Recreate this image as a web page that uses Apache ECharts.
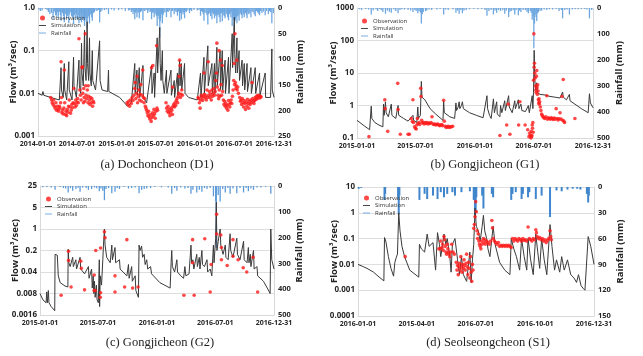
<!DOCTYPE html>
<html><head><meta charset="utf-8">
<script src="https://cdn.jsdelivr.net/npm/echarts@6/dist/echarts.min.js"></script>
<style>html,body{margin:0;padding:0;background:#fff}#c{width:643px;height:356px}</style>
</head><body><div id="c"></div>
<script>
// ---------- Panel (a) Dochoncheon (D1) ----------
const a_xticks=['2014-01-01','2014-07-01','2015-01-01','2015-07-01','2016-01-01','2016-07-01','2016-12-31'];
const a_yticks=['0.001','0.01','0.1','1.0'];
const a_rainTicks=[0,50,100,150,200,250];
const a_rain=[['2014-01-05',3],['2014-01-12',6],['2014-01-20',5],['2014-02-05',2],['2014-02-12',4],['2014-02-18',8],['2014-02-25',12],['2014-03-05',10],['2014-03-12',22],['2014-03-16',9],['2014-03-20',6],['2014-03-24',14],['2014-03-28',15],['2014-04-01',8],['2014-04-05',20],['2014-04-08',6],['2014-04-12',8],['2014-04-15',14],['2014-04-18',25],['2014-04-22',7],['2014-04-25',10],['2014-04-29',16],['2014-05-03',28],['2014-05-06',9],['2014-05-10',12],['2014-05-14',20],['2014-05-18',15],['2014-05-21',8],['2014-05-24',30],['2014-05-28',12],['2014-06-02',8],['2014-06-06',16],['2014-06-10',18],['2014-06-13',9],['2014-06-15',32],['2014-06-19',14],['2014-06-22',10],['2014-06-26',20],['2014-06-29',12],['2014-07-02',22],['2014-07-06',14],['2014-07-10',30],['2014-07-13',18],['2014-07-15',12],['2014-07-19',24],['2014-07-22',28],['2014-07-25',10],['2014-07-28',18],['2014-07-31',22],['2014-08-02',25],['2014-08-05',35],['2014-08-08',20],['2014-08-10',15],['2014-08-13',26],['2014-08-17',39],['2014-08-20',20],['2014-08-24',16],['2014-08-28',30],['2014-08-31',12],['2014-09-03',12],['2014-09-07',18],['2014-09-10',25],['2014-09-15',10],['2014-09-20',8],['2014-09-27',5],['2014-10-02',6],['2014-10-08',4],['2014-10-14',28],['2014-10-19',8],['2014-10-25',5],['2014-11-05',4],['2014-11-14',3],['2014-11-24',12],['2014-12-08',3],['2014-12-20',5],
['2015-01-10',4],['2015-01-25',3],['2015-02-10',6],['2015-02-25',5],['2015-03-03',4],['2015-03-10',8],['2015-03-14',5],['2015-03-18',12],['2015-03-22',7],['2015-03-26',22],['2015-03-30',9],['2015-04-02',6],['2015-04-05',18],['2015-04-10',10],['2015-04-13',7],['2015-04-16',20],['2015-04-19',5],['2015-04-22',8],['2015-04-27',6],['2015-05-03',24],['2015-05-08',5],['2015-05-12',6],['2015-05-18',4],['2015-05-25',10],['2015-05-30',5],['2015-06-05',8],['2015-06-09',6],['2015-06-12',22],['2015-06-15',8],['2015-06-18',10],['2015-06-21',7],['2015-06-24',18],['2015-06-28',9],['2015-07-02',12],['2015-07-05',16],['2015-07-08',35],['2015-07-11',14],['2015-07-14',15],['2015-07-17',22],['2015-07-20',58],['2015-07-22',26],['2015-07-24',20],['2015-07-28',12],['2015-08-01',30],['2015-08-04',14],['2015-08-08',10],['2015-08-13',8],['2015-08-20',18],['2015-08-24',7],['2015-08-28',8],['2015-09-03',5],['2015-09-10',18],['2015-09-14',6],['2015-09-18',6],['2015-09-25',12],['2015-09-30',5],['2015-10-04',8],['2015-10-10',15],['2015-10-15',7],['2015-10-20',25],['2015-10-24',10],['2015-10-28',22],['2015-11-01',8],['2015-11-05',12],['2015-11-08',7],['2015-11-12',20],['2015-11-16',6],['2015-11-20',8],['2015-11-27',5],['2015-12-05',10],['2015-12-10',4],['2015-12-15',6],['2015-12-26',4],
['2016-01-10',5],['2016-01-18',4],['2016-01-25',15],['2016-01-29',6],['2016-02-03',8],['2016-02-07',12],['2016-02-10',25],['2016-02-14',9],['2016-02-20',10],['2016-02-24',14],['2016-02-28',32],['2016-03-03',12],['2016-03-08',10],['2016-03-12',16],['2016-03-15',8],['2016-03-18',22],['2016-03-22',9],['2016-03-25',12],['2016-03-30',20],['2016-04-02',10],['2016-04-05',15],['2016-04-08',12],['2016-04-10',30],['2016-04-14',14],['2016-04-18',12],['2016-04-21',18],['2016-04-25',28],['2016-04-28',10],['2016-05-01',10],['2016-05-05',26],['2016-05-09',14],['2016-05-12',8],['2016-05-15',16],['2016-05-18',20],['2016-05-22',9],['2016-05-26',12],['2016-05-30',18],['2016-06-03',24],['2016-06-07',12],['2016-06-10',10],['2016-06-14',18],['2016-06-17',8],['2016-06-20',35],['2016-06-23',20],['2016-06-25',15],['2016-06-28',24],['2016-06-30',42],['2016-07-03',26],['2016-07-05',22],['2016-07-09',18],['2016-07-12',30],['2016-07-15',16],['2016-07-18',14],['2016-07-22',25],['2016-07-26',12],['2016-07-30',10],['2016-08-02',14],['2016-08-05',20],['2016-08-10',8],['2016-08-12',12],['2016-08-15',18],['2016-08-19',9],['2016-08-22',10],['2016-08-25',14],['2016-08-28',20],['2016-09-01',8],['2016-09-05',12],['2016-09-10',10],['2016-09-15',18],['2016-09-20',7],['2016-09-25',8],['2016-09-30',12],['2016-10-05',16],['2016-10-10',6],['2016-10-15',8],['2016-10-20',11],['2016-10-25',14],['2016-10-30',6],['2016-11-05',10],['2016-11-12',7],['2016-11-20',14],['2016-11-27',6],['2016-12-05',12],['2016-12-10',6],['2016-12-15',8],['2016-12-21',30],['2016-12-28',10]];
const a_sim=[['2014-01-01',0.010],['2014-01-20',0.009],['2014-01-24',0.011],['2014-01-28',0.009],['2014-03-01',0.008],['2014-04-10',0.007],['2014-04-18',0.04],['2014-04-20',0.012],['2014-04-28',0.008],['2014-05-03',0.05],['2014-05-05',0.012],['2014-05-14',0.007],['2014-05-24',0.055],['2014-05-26',0.012],['2014-06-08',0.007],['2014-06-15',0.07],['2014-06-17',0.015],['2014-06-28',0.008],['2014-07-10',0.06],['2014-07-12',0.015],['2014-07-18',0.01],['2014-07-22',0.15],['2014-07-24',0.03],['2014-07-30',0.015],['2014-08-05',0.3],['2014-08-07',0.04],['2014-08-12',0.02],['2014-08-17',0.48],['2014-08-19',0.05],['2014-08-24',0.02],['2014-08-28',0.2],['2014-08-30',0.03],['2014-09-05',0.015],['2014-09-10',0.1],['2014-09-12',0.02],['2014-09-25',0.012],['2014-10-14',0.17],['2014-10-16',0.02],['2014-10-25',0.012],['2014-11-20',0.011],['2014-11-24',0.035],['2014-11-26',0.011],['2015-01-15',0.008],['2015-02-20',0.005],['2015-03-10',0.006],['2015-03-26',0.05],['2015-03-28',0.01],['2015-04-05',0.035],['2015-04-07',0.009],['2015-04-16',0.04],['2015-04-18',0.008],['2015-05-03',0.045],['2015-05-05',0.008],['2015-05-20',0.006],['2015-06-12',0.045],['2015-06-14',0.01],['2015-06-24',0.03],['2015-06-26',0.008],['2015-07-08',0.2],['2015-07-10',0.03],['2015-07-20',0.35],['2015-07-22',0.05],['2015-07-26',0.02],['2015-08-01',0.1],['2015-08-03',0.02],['2015-08-10',0.01],['2015-08-20',0.035],['2015-08-22',0.01],['2015-09-10',0.035],['2015-09-12',0.009],['2015-09-25',0.02],['2015-09-27',0.008],['2015-10-10',0.03],['2015-10-12',0.009],['2015-10-20',0.06],['2015-10-22',0.015],['2015-10-28',0.05],['2015-10-30',0.012],['2015-11-12',0.05],['2015-11-14',0.01],['2015-12-01',0.008],['2016-01-10',0.007],['2016-01-25',0.03],['2016-01-27',0.008],['2016-02-10',0.07],['2016-02-12',0.01],['2016-02-28',0.13],['2016-03-01',0.015],['2016-03-18',0.05],['2016-03-20',0.01],['2016-03-30',0.05],['2016-04-01',0.01],['2016-04-10',0.12],['2016-04-12',0.015],['2016-04-25',0.1],['2016-04-27',0.012],['2016-05-05',0.1],['2016-05-07',0.012],['2016-05-18',0.06],['2016-05-20',0.01],['2016-06-03',0.07],['2016-06-05',0.01],['2016-06-20',0.25],['2016-06-22',0.04],['2016-06-30',0.6],['2016-07-02',0.08],['2016-07-06',0.03],['2016-07-12',0.2],['2016-07-14',0.03],['2016-07-22',0.1],['2016-07-24',0.02],['2016-08-05',0.06],['2016-08-07',0.015],['2016-08-15',0.05],['2016-08-17',0.012],['2016-08-28',0.05],['2016-08-30',0.011],['2016-09-15',0.04],['2016-09-17',0.01],['2016-10-05',0.04],['2016-10-07',0.01],['2016-10-25',0.03],['2016-10-27',0.009],['2016-11-20',0.03],['2016-11-22',0.008],['2016-12-15',0.008],['2016-12-21',0.11],['2016-12-23',0.012],['2016-12-31',0.008]];
const a_obs=[['2014-03-01',0.008],['2014-03-05',0.007],['2014-03-08',0.006],['2014-03-12',0.0055],['2014-03-15',0.007],['2014-03-18',0.005],['2014-03-22',0.0045],['2014-03-25',0.006],['2014-03-28',0.004],['2014-04-01',0.005],['2014-04-04',0.0042],['2014-04-07',0.0038],['2014-04-10',0.005],['2014-04-13',0.0045],['2014-04-16',0.006],['2014-04-18',0.055],['2014-04-20',0.008],['2014-04-22',0.0035],['2014-04-25',0.004],['2014-04-28',0.0033],['2014-05-01',0.0045],['2014-05-03',0.035],['2014-05-05',0.006],['2014-05-08',0.0032],['2014-05-11',0.0038],['2014-05-14',0.003],['2014-05-17',0.0042],['2014-05-20',0.0036],['2014-05-23',0.005],['2014-05-26',0.007],['2014-05-29',0.0048],['2014-06-01',0.0034],['2014-06-04',0.004],['2014-06-07',0.0055],['2014-06-10',0.0046],['2014-06-13',0.006],['2014-06-16',0.013],['2014-06-19',0.0058],['2014-06-22',0.0048],['2014-06-25',0.007],['2014-06-28',0.0052],['2014-07-01',0.0062],['2014-07-04',0.0075],['2014-07-07',0.006],['2014-07-10',0.19],
['2014-07-14',0.012],['2014-07-17',0.009],['2014-07-20',0.007],['2014-07-24',0.04],['2014-07-26',0.042],['2014-07-28',0.01],['2014-07-31',0.006],['2014-08-01',0.013],['2014-08-03',0.008],['2014-08-06',0.0065],['2014-08-08',0.25],['2014-08-10',0.015],['2014-08-12',0.009],['2014-08-15',0.0075],['2014-08-18',0.012],['2014-08-21',0.006],['2014-08-22',0.015],['2014-08-24',0.0085],['2014-08-27',0.007],['2014-08-30',0.0055],['2014-09-02',0.008],['2014-09-05',0.006],['2014-09-08',0.0075],['2014-09-11',0.005],['2014-09-14',0.0065],['2014-09-17',0.006],
['2015-02-18',0.006],['2015-02-22',0.0055],['2015-02-26',0.0065],['2015-03-02',0.005],['2015-03-06',0.007],['2015-03-10',0.0058],['2015-03-14',0.008],['2015-03-18',0.0068],['2015-03-22',0.009],['2015-03-26',0.013],['2015-03-28',0.018],['2015-03-31',0.0075],['2015-04-03',0.01],['2015-04-06',0.025],['2015-04-08',0.006],['2015-04-11',0.0085],['2015-04-14',0.012],['2015-04-17',0.007],['2015-04-20',0.0095],['2015-04-23',0.016],['2015-04-26',0.0065],['2015-04-29',0.009],['2015-05-02',0.035],['2015-05-05',0.008],['2015-05-08',0.006],['2015-05-11',0.0075],['2015-05-14',0.005],['2015-05-17',0.0045],
['2015-05-20',0.004],['2015-05-23',0.0035],['2015-05-26',0.003],['2015-05-29',0.0038],['2015-06-01',0.0028],['2015-06-04',0.0025],['2015-06-07',0.0032],['2015-06-10',0.0022],['2015-06-12',0.04],['2015-06-14',0.0027],['2015-06-17',0.0035],['2015-06-18',0.045],['2015-06-20',0.003],['2015-06-23',0.0042],['2015-06-26',0.0033],['2015-06-29',0.0026],['2015-07-02',0.0038],['2015-07-05',0.13],['2015-07-07',0.0045],['2015-07-10',0.004],
['2015-08-18',0.006],['2015-08-21',0.0045],['2015-08-24',0.0038],['2015-08-27',0.005],['2015-08-30',0.0035],['2015-09-02',0.0042],['2015-09-05',0.003],['2015-09-08',0.0036],['2015-09-11',0.0045],['2015-09-14',0.004],['2015-09-17',0.0032],['2015-09-18',0.014],['2015-09-20',0.005],['2015-09-23',0.0055],['2015-09-26',0.0048],['2015-09-29',0.006],['2015-10-02',0.0052],['2015-10-05',0.0068],['2015-10-08',0.0075],['2015-10-11',0.006],['2015-10-14',0.0085],['2015-10-17',0.01],['2015-10-18',0.025],['2015-10-20',0.06],['2015-10-22',0.045],['2015-10-24',0.008],['2015-10-27',0.0095],['2015-10-30',0.012],['2015-11-02',0.009],
['2016-01-14',0.008],['2016-01-17',0.0075],['2016-01-20',0.006],['2016-01-23',0.0045],['2016-01-26',0.007],['2016-01-29',0.009],['2016-02-01',0.008],['2016-02-04',0.0068],['2016-02-07',0.0085],['2016-02-10',0.03],['2016-02-12',0.0095],['2016-02-15',0.0078],['2016-02-18',0.0088],['2016-02-21',0.007],['2016-02-24',0.012],['2016-02-27',0.008],['2016-03-01',0.055],['2016-03-03',0.009],['2016-03-06',0.011],['2016-03-09',0.008],['2016-03-12',0.0095],['2016-03-15',0.007],['2016-03-18',0.012],['2016-03-21',0.0085],
['2016-03-24',0.01],['2016-03-27',0.013],['2016-03-30',0.009],['2016-04-02',0.011],['2016-04-05',0.02],['2016-04-08',0.03],['2016-04-10',0.15],['2016-04-12',0.014],['2016-04-15',0.009],['2016-04-18',0.0075],['2016-04-20',0.1],['2016-04-21',0.012],['2016-04-24',0.0085],['2016-04-27',0.06],['2016-04-29',0.016],['2016-05-02',0.009],['2016-05-05',0.045],['2016-05-07',0.011],['2016-05-10',0.007],['2016-05-13',0.0055],['2016-05-16',0.0065],['2016-05-19',0.005],['2016-05-22',0.0058],['2016-05-25',0.0045],['2016-05-28',0.0052],['2016-05-31',0.004],['2016-06-03',0.0068],['2016-06-06',0.0055],['2016-06-09',0.0048],['2016-06-12',0.006],['2016-06-15',0.007],['2016-06-18',0.0058],['2016-06-21',0.0085],
['2016-06-24',0.012],['2016-06-27',0.02],['2016-06-29',0.05],['2016-07-01',0.016],['2016-07-03',0.25],['2016-07-05',0.018],['2016-07-07',0.013],['2016-07-09',0.015],['2016-07-11',0.06],['2016-07-13',0.012],['2016-07-16',0.014],['2016-07-19',0.01],
['2016-07-25',0.008],['2016-07-28',0.0065],['2016-07-31',0.007],['2016-08-03',0.0055],['2016-08-06',0.0075],['2016-08-09',0.006],['2016-08-12',0.0048],['2016-08-15',0.0068],['2016-08-18',0.0058],['2016-08-21',0.0042],['2016-08-24',0.0062],['2016-08-27',0.005],['2016-08-30',0.0072],['2016-09-02',0.0058],['2016-09-05',0.0045],['2016-09-08',0.0065],['2016-09-11',0.0055],['2016-09-14',0.007],['2016-09-17',0.006],['2016-09-20',0.018],['2016-09-23',0.0075],['2016-09-26',0.0065],['2016-09-29',0.0058],['2016-10-02',0.0068],['2016-10-05',0.008],['2016-10-08',0.0072],['2016-10-11',0.0085],['2016-10-14',0.0075],['2016-10-17',0.009],['2016-10-20',0.008],['2016-10-23',0.0088],['2016-10-26',0.0078],['2016-10-29',0.0085],['2016-11-01',0.0082]];

// ---------- Panel (b) Gongjicheon (G1) ----------
const b_xticks=['2015-01-01','2015-07-01','2016-01-01','2016-07-01','2016-12-31'];
const b_yticks=['0.1','1','10','100','1000'];
const b_rainTicks=[0,100,200,300,400,500];
const b_rain=[['2015-01-08',5],['2015-01-15',8],['2015-01-28',4],['2015-02-06',6],['2015-02-14',25],['2015-02-20',10],['2015-03-01',6],['2015-03-06',12],['2015-03-12',4],['2015-03-17',9],['2015-03-22',15],['2015-03-30',22],['2015-04-05',10],['2015-04-11',14],['2015-04-17',18],['2015-04-25',6],['2015-05-01',12],['2015-05-08',20],['2015-05-14',8],['2015-05-20',5],['2015-05-28',6],['2015-06-08',8],['2015-06-16',10],['2015-06-23',15],['2015-06-29',8],['2015-07-03',12],['2015-07-08',20],['2015-07-12',12],['2015-07-16',18],['2015-07-19',60],['2015-07-22',24],['2015-07-25',15],['2015-08-01',12],['2015-08-05',10],['2015-08-12',6],['2015-08-20',8],['2015-09-05',6],['2015-09-15',4],['2015-09-26',25],['2015-10-02',6],['2015-10-10',8],['2015-10-25',6],['2015-11-03',18],['2015-11-08',10],['2015-11-13',22],['2015-11-18',8],['2015-11-23',20],['2015-11-28',10],['2015-12-05',8],['2015-12-15',5],['2015-12-28',4],
['2016-01-10',5],['2016-01-22',4],['2016-02-01',8],['2016-02-07',30],['2016-02-13',12],['2016-02-20',8],['2016-02-27',25],['2016-03-03',10],['2016-03-08',18],['2016-03-14',8],['2016-03-20',12],['2016-03-27',9],['2016-04-02',22],['2016-04-07',10],['2016-04-14',35],['2016-04-18',14],['2016-04-22',12],['2016-04-28',9],['2016-05-03',25],['2016-05-07',8],['2016-05-14',28],['2016-05-18',10],['2016-05-22',15],['2016-05-29',8],['2016-06-05',8],['2016-06-10',14],['2016-06-14',20],['2016-06-20',12],['2016-06-23',18],['2016-06-26',45],['2016-06-29',30],['2016-07-01',155],['2016-07-03',60],['2016-07-05',25],['2016-07-08',35],['2016-07-10',50],['2016-07-13',20],['2016-07-15',15],['2016-07-20',12],['2016-07-25',10],['2016-08-02',6],['2016-08-10',8],['2016-08-18',5],['2016-08-28',6],['2016-09-08',4],['2016-09-17',12],['2016-09-24',8],['2016-09-28',40],['2016-10-05',8],['2016-10-12',6],['2016-10-19',25],['2016-10-28',6],['2016-11-06',5],['2016-11-15',5],['2016-11-25',4],['2016-12-05',4],['2016-12-12',6],['2016-12-20',40],['2016-12-27',8]];
const b_sim=[['2015-01-01',0.35],['2015-01-20',0.25],['2015-02-09',0.18],['2015-02-14',0.95],['2015-02-16',0.4],['2015-02-25',0.3],['2015-03-10',0.25],['2015-03-22',0.22],['2015-03-24',1.1],['2015-03-26',0.5],['2015-03-30',1.3],['2015-04-01',0.6],['2015-04-08',0.45],['2015-04-17',1.1],['2015-04-19',0.5],['2015-05-01',0.4],['2015-05-08',1.0],['2015-05-10',0.5],['2015-05-25',0.4],['2015-06-08',0.33],['2015-06-23',0.5],['2015-06-25',0.35],['2015-07-05',0.3],['2015-07-08',0.9],['2015-07-10',0.4],['2015-07-16',0.5],['2015-07-19',5.5],['2015-07-21',1.8],['2015-07-26',1.7],['2015-07-30',1.5],['2015-08-15',0.8],['2015-09-01',0.55],['2015-09-24',0.35],['2015-09-26',1.4],['2015-09-28',0.6],['2015-10-15',0.45],['2015-10-30',0.4],['2015-11-03',1.2],['2015-11-05',0.7],['2015-11-10',0.9],['2015-11-13',1.3],['2015-11-15',0.8],['2015-11-20',1.0],['2015-11-23',1.3],['2015-11-26',0.8],['2015-12-15',0.6],['2016-01-05',0.5],['2016-01-26',0.42],['2016-02-07',2.0],['2016-02-09',0.8],['2016-02-15',0.5],['2016-02-20',0.4],['2016-02-27',1.6],['2016-03-01',0.6],['2016-03-08',1.3],['2016-03-10',0.55],['2016-03-18',0.45],['2016-03-20',1.0],['2016-03-24',0.6],['2016-04-02',1.4],['2016-04-04',0.7],['2016-04-14',2.0],['2016-04-16',0.9],['2016-04-22',0.9],['2016-04-25',0.6],['2016-05-03',1.4],['2016-05-05',0.8],['2016-05-14',1.5],['2016-05-16',0.8],['2016-05-22',1.1],['2016-05-25',0.7],['2016-06-05',0.65],['2016-06-14',1.0],['2016-06-17',0.6],['2016-06-23',0.55],['2016-06-26',2.0],['2016-06-28',0.8],['2016-06-30',2.5],['2016-07-02',50],['2016-07-04',6],['2016-07-07',3.0],['2016-07-10',5.0],['2016-07-12',2.5],['2016-07-20',2.2],['2016-08-05',2.1],['2016-08-20',1.9],['2016-09-05',1.8],['2016-09-20',1.7],['2016-09-28',2.6],['2016-09-30',1.8],['2016-10-10',1.5],['2016-10-19',2.2],['2016-10-21',1.4],['2016-11-05',1.1],['2016-11-25',0.8],['2016-12-16',0.6],['2016-12-20',2.3],['2016-12-23',1.2],['2016-12-31',0.85]];
const b_obs=[['2015-02-07',0.11],['2015-03-28',1.5],['2015-03-29',0.8],['2015-04-06',0.16],['2015-05-07',4.8],['2015-05-08',0.75],['2015-05-15',0.13],['2015-06-08',0.13],['2015-06-12',0.13],['2015-06-18',0.4],['2015-06-21',0.32],['2015-06-23',1.5],['2015-06-25',0.3],['2015-06-28',0.22],['2015-07-01',0.2],['2015-07-03',0.19],['2015-07-05',0.25],['2015-07-07',0.4],['2015-07-09',0.28],['2015-07-12',0.3],['2015-07-14',0.26],['2015-07-17',3.4],['2015-07-18',1.9],['2015-07-20',0.35],['2015-07-22',0.29],['2015-07-25',0.3],['2015-07-28',0.27],['2015-07-31',0.3],['2015-08-03',0.28],['2015-08-06',0.3],['2015-08-09',0.27],['2015-08-12',0.29],['2015-08-15',0.28],['2015-08-18',0.3],['2015-08-21',0.45],['2015-08-24',0.27],['2015-08-27',0.26],['2015-08-30',0.27],['2015-09-02',0.25],['2015-09-05',0.26],['2015-09-08',0.27],['2015-09-11',0.25],['2015-09-14',0.24],['2015-09-17',0.25],['2015-09-20',0.26],['2015-09-23',0.24],['2015-09-26',1.45],['2015-09-28',0.33],['2015-10-01',0.23],['2015-10-04',0.21],['2015-10-07',0.22],['2015-10-10',0.23],['2015-10-13',0.21],['2015-10-16',0.22],['2015-10-20',0.22],['2015-10-24',0.23],
['2016-03-18',0.12],['2016-04-08',0.25],['2016-04-13',1.1],['2016-04-18',0.13],['2016-05-15',0.25],['2016-05-19',1.3],['2016-06-04',0.25],['2016-06-12',0.18],['2016-06-16',0.11],['2016-06-18',0.14],['2016-06-20',0.12],['2016-06-22',0.1],['2016-06-23',0.16],['2016-06-24',0.11],['2016-06-25',0.12],['2016-06-26',0.25],['2016-06-27',0.2],['2016-06-28',0.3],['2016-06-29',0.15],
['2016-06-30',6],['2016-07-01',160],['2016-07-02',15],['2016-07-03',20],['2016-07-04',10],['2016-07-05',7],['2016-07-06',4],['2016-07-07',3],['2016-07-08',2.5],['2016-07-09',8],['2016-07-10',12],['2016-07-11',3.5],['2016-07-12',2.2],['2016-07-13',4.3],['2016-07-14',2.8],['2016-07-15',1.5],['2016-07-16',1.2],['2016-07-17',1.6],['2016-07-18',1.1],['2016-07-19',1.3],['2016-07-21',0.9],['2016-07-23',0.7],['2016-07-25',0.55],['2016-07-27',0.5],['2016-07-29',0.45],['2016-08-01',0.42],['2016-08-04',0.4],['2016-08-07',0.45],['2016-08-10',2.0],['2016-08-12',0.38],['2016-08-15',0.42],['2016-08-18',0.4],['2016-08-21',0.38],['2016-08-24',0.42],['2016-08-27',0.4],['2016-08-30',0.37],['2016-09-02',0.41],['2016-09-05',0.38],['2016-09-08',0.8],['2016-09-11',0.4],['2016-09-14',0.36],['2016-09-17',0.39],['2016-09-20',0.6],['2016-09-23',0.38],['2016-09-26',1.9],['2016-09-28',0.35],['2016-09-30',6.3],['2016-10-02',0.33],['2016-10-04',0.3],['2016-11-05',0.4]];

// ---------- Panel (c) Gongjicheon (G2) ----------
const c_xticks=['2015-01-01','2015-07-01','2016-01-01','2016-07-01','2016-12-31'];
const c_yticks=['0.0016','0.008','0.04','0.2','1','5','25'];
const c_rainTicks=[0,100,200,300,400,500];
const c_rain=[['2015-01-10',5],['2015-01-22',4],['2015-02-05',6],['2015-02-17',15],['2015-03-05',4],['2015-03-15',8],['2015-03-22',10],['2015-03-30',25],['2015-04-06',8],['2015-04-13',18],['2015-04-23',12],['2015-04-30',7],['2015-05-06',22],['2015-05-14',6],['2015-05-25',8],['2015-06-01',15],['2015-06-11',12],['2015-06-20',6],['2015-06-27',9],['2015-07-05',20],['2015-07-10',10],['2015-07-16',18],['2015-07-21',55],['2015-07-26',12],['2015-08-03',8],['2015-08-13',28],['2015-08-23',22],['2015-08-30',8],['2015-09-06',12],['2015-09-20',4],['2015-10-04',10],['2015-10-14',8],['2015-10-25',6],['2015-11-06',28],['2015-11-14',15],['2015-11-22',12],['2015-11-30',10],['2015-12-12',8],['2015-12-25',4],['2016-01-15',5],['2016-02-05',6],['2016-02-16',30],['2016-02-25',8],['2016-03-03',18],['2016-03-15',6],['2016-03-28',10],['2016-04-07',8],['2016-04-16',30],['2016-04-22',15],['2016-05-04',25],['2016-05-12',15],['2016-05-20',22],['2016-05-28',8],['2016-06-05',12],['2016-06-15',8],['2016-06-25',40],['2016-07-02',60],['2016-07-04',240],['2016-07-10',35],['2016-07-16',60],['2016-07-24',12],['2016-08-01',25],['2016-08-09',8],['2016-08-16',30],['2016-08-25',10],['2016-09-06',28],['2016-09-16',8],['2016-09-27',25],['2016-10-05',8],['2016-10-12',20],['2016-10-20',10],['2016-10-28',15],['2016-11-08',6],['2016-11-20',6],['2016-12-05',4],['2016-12-21',30]];
const c_sim=[['2015-01-01',0.008],['2015-01-10',0.005],['2015-01-20',0.004],['2015-01-22',0.009],['2015-01-24',0.004],['2015-01-27',0.01],['2015-01-29',0.004],['2015-02-05',0.003],['2015-02-16',0.0022],['2015-02-17',0.15],['2015-02-24',0.14],['2015-02-27',0.03],['2015-03-05',0.018],['2015-03-20',0.014],['2015-03-29',0.013],['2015-03-30',0.22],['2015-04-01',0.08],['2015-04-05',0.06],['2015-04-13',0.12],['2015-04-15',0.06],['2015-04-23',0.1],['2015-04-25',0.05],['2015-05-06',0.12],['2015-05-08',0.05],['2015-05-20',0.035],['2015-06-01',0.06],['2015-06-03',0.025],['2015-06-11',0.05],['2015-06-13',0.012],['2015-06-16',0.03],['2015-06-18',0.008],['2015-06-20',0.02],['2015-06-22',0.006],['2015-06-26',0.015],['2015-06-28',0.005],['2015-07-02',0.004],['2015-07-05',0.1],['2015-07-06',0.003],['2015-07-08',0.03],['2015-07-12',0.015],['2015-07-16',0.1],['2015-07-18',0.3],['2015-07-21',1.0],['2015-07-23',0.3],['2015-07-28',0.12],['2015-08-08',0.08],['2015-08-13',0.3],['2015-08-15',0.1],['2015-08-23',0.25],['2015-08-25',0.08],['2015-09-06',0.1],['2015-09-08',0.05],['2015-09-29',0.03],['2015-10-04',0.07],['2015-10-06',0.025],['2015-10-14',0.06],['2015-10-16',0.02],['2015-10-25',0.03],['2015-10-27',0.01],['2015-11-04',0.006],['2015-11-06',0.3],['2015-11-09',0.2],['2015-11-14',0.28],['2015-11-17',0.12],['2015-11-22',0.15],['2015-11-25',0.07],['2015-11-30',0.1],['2015-12-03',0.05],['2015-12-12',0.06],['2015-12-15',0.035],['2015-12-21',0.03],['2016-01-10',0.018],['2016-02-11',0.012],['2016-02-14',0.08],['2016-02-16',0.2],['2016-02-18',0.06],['2016-02-25',0.04],['2016-03-03',0.1],['2016-03-05',0.04],['2016-03-15',0.03],['2016-03-24',0.025],['2016-03-28',0.06],['2016-03-31',0.03],['2016-04-10',0.035],['2016-04-16',0.3],['2016-04-18',0.08],['2016-04-22',0.1],['2016-04-25',0.05],['2016-05-04',0.15],['2016-05-06',0.06],['2016-05-12',0.12],['2016-05-14',0.05],['2016-05-20',0.2],['2016-05-22',0.07],['2016-05-28',0.06],['2016-06-05',0.1],['2016-06-07',0.04],['2016-06-15',0.05],['2016-06-20',0.03],['2016-06-25',0.3],['2016-06-27',0.08],['2016-07-02',0.5],['2016-07-04',7.5],['2016-07-06',0.2],['2016-07-10',0.4],['2016-07-16',1.0],['2016-07-18',0.3],['2016-07-25',0.15],['2016-08-01',0.3],['2016-08-03',0.12],['2016-08-10',0.1],['2016-08-16',0.7],['2016-08-18',0.2],['2016-08-25',0.12],['2016-09-06',0.5],['2016-09-08',0.15],['2016-09-16',0.1],['2016-09-27',0.4],['2016-09-29',0.1],['2016-10-08',0.08],['2016-10-12',0.25],['2016-10-14',0.08],['2016-10-18',0.15],['2016-10-20',0.06],['2016-10-28',0.2],['2016-10-30',0.05],['2016-11-08',0.06],['2016-11-10',0.03],['2016-11-28',0.02],['2016-12-10',0.012],['2016-12-19',0.008],['2016-12-21',1.0],['2016-12-24',0.1],['2016-12-31',0.05]];
const c_obs=[['2015-03-08',0.007],['2015-03-31',0.19],['2015-03-31',0.095],['2015-04-08',0.013],['2015-05-08',0.09],['2015-05-10',0.053],['2015-05-20',0.0105],['2015-06-19',0.032],['2015-06-19',0.01],['2015-06-22',0.01],['2015-06-24',0.2],['2015-07-09',0.24],['2015-07-09',0.0085],['2015-07-08',0.006],['2015-07-21',0.81],['2015-07-23',0.52],['2015-08-23',0.03],['2015-08-23',0.009],['2015-09-29',0.45],['2015-09-22',0.013],['2015-10-17',0.012],['2015-11-03',0.013],['2016-03-25',0.007],['2016-04-21',0.45],['2016-04-21',0.08],['2016-04-26',0.007],['2016-05-29',0.48],['2016-06-15',0.009],['2016-06-18',0.07],['2016-07-05',3.0],['2016-07-05',0.69],['2016-07-18',0.64],['2016-07-20',0.25],['2016-07-20',0.1],['2016-08-07',0.065],['2016-08-25',0.45],['2016-08-25',0.13],['2016-09-10',0.1],['2016-09-26',0.055],['2016-10-07',0.04],['2016-10-27',0.12],['2016-11-10',0.009]];

// ---------- Panel (d) Seolseongcheon (S1) ----------
const d_xtickDates=['2016-01-01','2016-04-01','2016-07-01','2016-10-01','2016-12-31'];
const d_xtickLabels=['2016-01-01','2015-04-01','2016-07-01','2016-10-01','2016-12-31'];
const d_yticks=['0.0001','0.001','0.01','0.1','1','10'];
const d_rainTicks=[0,30,60,90,120,150];
const d_rain=[['2016-01-02',2],['2016-01-06',1],['2016-02-11',15],['2016-02-12',8],['2016-03-03',12],['2016-03-04',32],['2016-03-05',10],['2016-04-05',15],['2016-04-13',8],['2016-04-17',14],['2016-04-26',10],['2016-05-03',14],['2016-05-08',6],['2016-05-13',12],['2016-05-18',8],['2016-05-26',6],['2016-05-30',10],['2016-06-09',6],['2016-06-22',5],['2016-06-28',15],['2016-06-30',35],['2016-07-01',30],['2016-07-02',12],['2016-07-11',10],['2016-07-13',25],['2016-07-26',8],['2016-07-28',12],['2016-08-25',15],['2016-08-27',8],['2016-09-01',6],['2016-09-10',14],['2016-09-12',8],['2016-09-20',12],['2016-09-22',6],['2016-10-02',14],['2016-10-11',10],['2016-10-24',35],['2016-11-03',4],['2016-11-11',5],['2016-11-20',3],['2016-11-28',2],['2016-12-05',2],['2016-12-10',3],['2016-12-20',8],['2016-12-22',18],['2016-12-23',10]];
const d_sim=[['2016-01-01',0.01],['2016-01-10',0.008],['2016-01-15',0.007],['2016-01-18',0.0065],['2016-01-25',0.005],['2016-02-01',0.0035],['2016-02-10',0.0023],['2016-02-11',0.11],['2016-02-13',0.08],['2016-02-17',0.02],['2016-02-21',0.007],['2016-02-25',0.0035],['2016-02-27',0.012],['2016-02-29',0.018],['2016-03-02',0.025],['2016-03-04',1.0],['2016-03-06',0.2],['2016-03-09',0.05],['2016-03-13',0.02],['2016-03-21',0.006],['2016-04-04',0.0032],['2016-04-05',0.06],['2016-04-08',0.04],['2016-04-13',0.03],['2016-04-17',0.15],['2016-04-20',0.05],['2016-04-26',0.07],['2016-04-30',0.006],['2016-05-03',0.17],['2016-05-06',0.06],['2016-05-08',0.02],['2016-05-13',0.15],['2016-05-16',0.06],['2016-05-18',0.1],['2016-05-22',0.02],['2016-05-24',0.005],['2016-05-26',0.06],['2016-05-30',0.1],['2016-06-03',0.015],['2016-06-06',0.004],['2016-06-09',0.02],['2016-06-12',0.004],['2016-06-17',0.0022],['2016-06-22',0.03],['2016-06-24',0.002],['2016-06-26',0.015],['2016-06-28',0.06],['2016-06-30',1.5],['2016-07-02',0.3],['2016-07-05',0.2],['2016-07-08',0.08],['2016-07-11',0.3],['2016-07-13',0.8],['2016-07-15',0.2],['2016-07-18',0.1],['2016-07-20',0.04],['2016-07-23',0.02],['2016-07-26',0.1],['2016-07-28',0.3],['2016-07-31',0.06],['2016-08-07',0.012],['2016-08-15',0.006],['2016-08-23',0.004],['2016-08-25',0.1],['2016-08-29',0.04],['2016-09-02',0.02],['2016-09-07',0.006],['2016-09-10',0.1],['2016-09-14',0.02],['2016-09-18',0.006],['2016-09-20',0.1],['2016-09-24',0.015],['2016-09-28',0.004],['2016-10-02',0.15],['2016-10-05',0.03],['2016-10-08',0.007],['2016-10-11',0.1],['2016-10-15',0.015],['2016-10-19',0.004],['2016-10-24',0.35],['2016-10-27',0.05],['2016-10-31',0.006],['2016-11-03',0.015],['2016-11-08',0.005],['2016-11-11',0.02],['2016-11-15',0.006],['2016-11-20',0.015],['2016-11-25',0.004],['2016-11-30',0.003],['2016-12-04',0.002],['2016-12-07',0.004],['2016-12-11',0.0015],['2016-12-14',0.0012],['2016-12-17',0.001],['2016-12-22',0.12],['2016-12-26',0.05],['2016-12-31',0.01]];
const d_obs=[['2016-03-14',0.02],['2016-05-05',0.04],['2016-05-07',0.04],['2016-05-08',0.08],['2016-05-10',0.045],['2016-05-11',0.06],['2016-05-12',0.035],['2016-05-13',0.12],['2016-05-14',0.09],['2016-05-15',0.05],['2016-05-16',0.03],['2016-05-17',0.025],['2016-05-18',0.06],['2016-05-19',0.04],['2016-05-20',0.03],['2016-05-21',0.025],['2016-05-22',0.02],['2016-05-23',0.03],['2016-05-25',0.06],['2016-05-27',0.03],['2016-05-29',0.025],
['2016-06-01',0.012],['2016-06-02',0.006],['2016-06-03',0.009],['2016-06-04',0.004],['2016-06-05',0.008],['2016-06-06',0.011],['2016-06-07',0.006],['2016-06-08',0.02],['2016-06-09',0.008],['2016-06-10',0.005],['2016-06-11',0.01],['2016-06-12',0.007],['2016-06-13',0.015],['2016-06-14',0.009],['2016-06-15',0.006],['2016-06-16',0.011],['2016-06-17',0.025],['2016-06-18',0.008],['2016-06-19',0.004],['2016-06-20',0.012],['2016-06-21',0.007],['2016-06-22',0.003],['2016-06-23',0.02],['2016-06-24',0.005],['2016-06-25',0.0022],['2016-06-26',0.01],['2016-06-27',0.006],
['2016-06-28',0.25],['2016-06-29',0.35],['2016-06-30',0.7],['2016-07-01',2.7],['2016-07-02',1.1],['2016-07-03',0.2],['2016-07-04',0.1],['2016-07-05',0.15],['2016-07-06',0.08],['2016-07-07',0.06],['2016-07-08',0.05],['2016-07-09',0.04],['2016-07-10',0.08],['2016-07-11',0.06],['2016-07-13',0.1],['2016-07-14',0.07],['2016-07-15',0.09],['2016-07-16',0.06],['2016-07-18',0.08],['2016-07-20',0.07],['2016-07-22',0.06],['2016-07-24',0.08],['2016-07-26',0.5],['2016-07-27',0.26],['2016-07-28',0.1],['2016-07-30',0.08],['2016-08-01',0.07],['2016-08-03',0.06],['2016-08-05',0.07],['2016-08-07',0.05],['2016-08-09',0.055],['2016-08-11',0.05],['2016-08-13',0.055],['2016-08-15',0.05],['2016-08-17',0.055],['2016-08-19',0.05],['2016-08-21',0.055],['2016-08-23',0.05],['2016-08-25',0.045],['2016-08-27',0.1],['2016-08-29',0.08],['2016-08-31',0.1],['2016-09-02',0.09],['2016-09-04',0.08],['2016-09-06',0.1],['2016-09-08',0.09],['2016-09-10',0.08],['2016-09-12',0.1],['2016-09-14',0.085],['2016-09-16',0.09],['2016-09-18',0.08],['2016-09-20',0.28],['2016-09-22',0.1],['2016-09-24',0.09],['2016-09-26',0.08],['2016-09-28',0.1],['2016-09-30',0.09],['2016-10-02',0.22],['2016-10-03',0.17],['2016-10-04',0.12],['2016-10-06',0.1],['2016-10-08',0.11],['2016-10-10',0.09],['2016-10-12',0.1],['2016-10-14',0.08],['2016-10-16',0.09],['2016-10-18',0.07],['2016-10-20',0.085],['2016-10-22',0.1],['2016-10-24',0.2],['2016-10-25',0.12],['2016-10-26',0.09]];

const captions=['(a) Dochoncheon (D1)','(b) Gongjicheon (G1)','(c) Gongjicheon (G2)','(d) Seolseongcheon (S1)'];

function ts(s){const p=s.split('-').map(Number);return Date.UTC(p[0],p[1]-1,p[2]);}
function toTs(arr){return arr.map(d=>[ts(d[0]),d[1]]);}

const panels=[
 {xDates:a_xticks,xLabels:a_xticks,yTicks:a_yticks,logBase:10,rainTicks:a_rainTicks,rain:a_rain,sim:a_sim,obs:a_obs,
  box:{left:38,top:8,width:236,height:128},leg:{left:39,top:15},cap:{x:157,y:158},barW:1.3,rainColor:'#6fa8e0',lg:20,rg:21},
 {xDates:b_xticks,xLabels:b_xticks,yTicks:b_yticks,logBase:10,rainTicks:b_rainTicks,rain:b_rain,sim:b_sim,obs:b_obs,
  box:{left:357,top:8,width:236,height:130},leg:{left:361,top:18},cap:{x:485,y:158},barW:1.3,rainColor:'#6fa8e0',lg:19,rg:21},
 {xDates:c_xticks,xLabels:c_xticks,yTicks:c_yticks,logBase:5,rainTicks:c_rainTicks,rain:c_rain,sim:c_sim,obs:c_obs,
  box:{left:40,top:186,width:234,height:129},leg:{left:45,top:196},cap:{x:160,y:336},barW:1.3,rainColor:'#5c9bd8',lg:20,rg:20},
 {xDates:d_xtickDates,xLabels:d_xtickLabels,yTicks:d_yticks,logBase:10,rainTicks:d_rainTicks,rain:d_rain,sim:d_sim,obs:d_obs,
  box:{left:358,top:187,width:236,height:129},leg:{left:363,top:195},cap:{x:488,y:336},barW:2,rainColor:'#3f86cc',lg:19,rg:21}
];

const FONT='Open Sans';
const lineIcon='path://M0,0 L12,0 L12,1.6 L0,1.6 Z';
const option={animation:false,backgroundColor:'#fff',title:[],grid:[],xAxis:[],yAxis:[],series:[],legend:[]};

panels.forEach((p,i)=>{
  option.grid.push(Object.assign({containLabel:false},p.box));
  const xTs=p.xDates.map(ts);
  option.xAxis.push({type:'value',gridIndex:i,min:xTs[0],max:xTs[xTs.length-1],
    axisLine:{show:true,onZero:false,lineStyle:{color:'#d9d9d9'}},axisTick:{show:false},splitLine:{show:false},
    axisLabel:{customValues:xTs,margin:4,fontFamily:FONT,fontWeight:'bold',fontSize:7,color:'#262626',
      formatter:(v)=>{let bi=0,bd=Infinity;xTs.forEach((t,k)=>{const d=Math.abs(t-v);if(d<bd){bd=d;bi=k;}});return p.xLabels[bi];}}});
  const yv=p.yTicks.map(Number);
  option.yAxis.push({type:'log',logBase:p.logBase,gridIndex:i,min:yv[0],max:yv[yv.length-1],
    name:'Flow (m³/sec)',nameLocation:'middle',nameRotate:90,nameGap:p.lg,nameMoveOverlap:false,
    nameTextStyle:{fontFamily:FONT,fontWeight:'bold',fontSize:9.5,color:'#222'},
    axisLine:{show:true,lineStyle:{color:'#d9d9d9'}},axisTick:{show:false},
    splitLine:{show:true,lineStyle:{color:'#dedede',width:1}},
    axisLabel:{margin:3,fontFamily:FONT,fontWeight:'bold',fontSize:8,color:'#262626',
      formatter:(v)=>{let bi=0,bd=Infinity;yv.forEach((t,k)=>{const d=Math.abs(Math.log(t)-Math.log(v));if(d<bd){bd=d;bi=k;}});return p.yTicks[bi];}}});
  const rt=p.rainTicks;
  option.yAxis.push({type:'value',gridIndex:i,position:'right',inverse:true,min:rt[0],max:rt[rt.length-1],interval:rt[1]-rt[0],
    name:'Rainfall (mm)',nameLocation:'middle',nameRotate:90,nameGap:p.rg,nameMoveOverlap:false,
    nameTextStyle:{fontFamily:FONT,fontWeight:'bold',fontSize:9.5,color:'#222'},
    axisLine:{show:true,lineStyle:{color:'#d9d9d9'}},axisTick:{show:false},splitLine:{show:false},
    axisLabel:{margin:4,fontFamily:FONT,fontWeight:'bold',fontSize:7.5,color:'#262626'}});
  option.series.push({name:'Rainfall',type:'bar',xAxisIndex:i,yAxisIndex:2*i+1,barWidth:p.barW,
    itemStyle:{color:p.rainColor},data:toTs(p.rain),z:1,silent:true});
  option.series.push({name:'Simulation',type:'line',xAxisIndex:i,yAxisIndex:2*i,showSymbol:false,symbol:'none',
    lineStyle:{color:'#3a3a3a',width:1},itemStyle:{color:'#3a3a3a'},data:toTs(p.sim),z:2});
  option.series.push({name:'Observation',type:'scatter',xAxisIndex:i,yAxisIndex:2*i,symbolSize:3.6,
    itemStyle:{color:'#ff1a1a'},data:toTs(p.obs),z:3});
  option.legend.push({orient:'vertical',left:p.leg.left,top:p.leg.top,itemWidth:7,itemHeight:5,itemGap:1.5,
    selectedMode:false,padding:0,
    textStyle:{fontFamily:FONT,fontSize:6,color:'#333',lineHeight:6},
    data:[{name:'Observation',icon:'circle'},{name:'Simulation',icon:lineIcon},{name:'Rainfall',icon:lineIcon}]});
  option.title.push({text:captions[i],left:p.cap.x,top:p.cap.y,textAlign:'center',padding:0,
    textStyle:{fontFamily:'Liberation Serif',fontSize:12.5,fontWeight:'normal',color:'#222'}});
});

const chart=echarts.init(document.getElementById('c'),null,{renderer:'canvas'});
chart.setOption(option);
</script></body></html>
